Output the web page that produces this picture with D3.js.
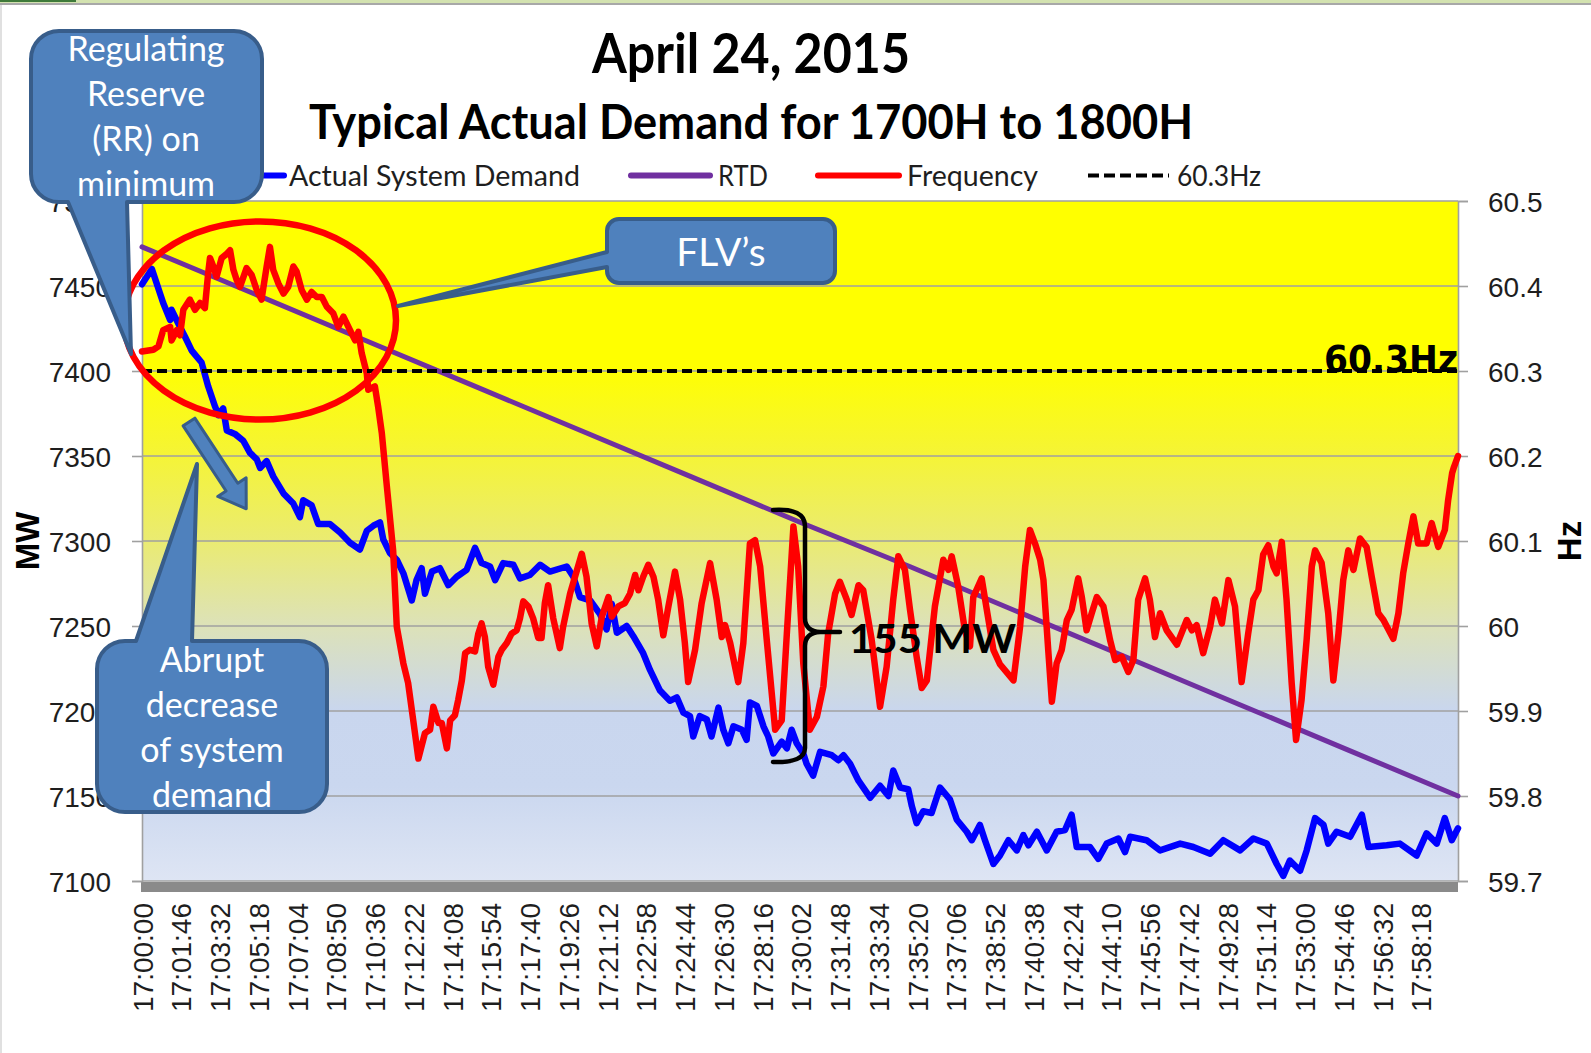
<!DOCTYPE html>
<html><head><meta charset="utf-8">
<script src="https://cdn.jsdelivr.net/npm/d3@7"></script>
<style>
html,body{margin:0;padding:0;background:#fff;}
svg{display:block;}
</style></head>
<body>
<script>
// ---------------- DATA ----------------
const titleText = "April 24, 2015";
const subtitleText = "Typical Actual Demand for 1700H to 1800H";
const legendLabels = ["Actual System Demand", "RTD", "Frequency", "60.3Hz"];
const leftTicks = [7100, 7150, 7200, 7250, 7300, 7350, 7400, 7450, 7500];
const rightTicks = [59.7, 59.8, 59.9, 60, 60.1, 60.2, 60.3, 60.4, 60.5];
const rightTickLabels = ["59.7", "59.8", "59.9", "60", "60.1", "60.2", "60.3", "60.4", "60.5"];
// x tick values: seconds after 17:00:00
const xTicks = [0,106,212,318,424,530,636,742,848,954,1060,1166,1272,1378,1484,1590,1696,1802,1908,2014,2120,2226,2332,2438,2544,2650,2756,2862,2968,3074,3180,3286,3392,3498];
const thresholdHz = 60.3;
// [seconds after 17:00:00, MW]
const demand = [[0,7451],[27,7460],[58,7440],[77,7430],[81,7436],[99,7428],[118,7420],[136,7412],[163,7405],[181,7391],[200,7379],[209,7374],[222,7378],[232,7365],[254,7363],[277,7359],[295,7352],[314,7348],[323,7343],[341,7347],[359,7338],[387,7328],[414,7322],[432,7314],[441,7324],[464,7321],[482,7310],[514,7310],[542,7305],[569,7299],[596,7295],[615,7306],[633,7309],[651,7311],[660,7301],[678,7293],[697,7289],[715,7281],[738,7265],[751,7277],[765,7284],[774,7269],[793,7282],[815,7284],[838,7274],[861,7279],[888,7283],[911,7296],[929,7287],[952,7285],[966,7277],[988,7287],[1016,7286],[1034,7278],[1061,7280],[1089,7286],[1116,7282],[1162,7285],[1180,7279],[1198,7267],[1226,7265],[1253,7257],[1271,7248],[1285,7263],[1299,7246],[1326,7250],[1344,7244],[1371,7234],[1390,7224],[1417,7212],[1444,7206],[1463,7208],[1481,7199],[1499,7197],[1508,7185],[1526,7197],[1545,7195],[1558,7185],[1577,7202],[1590,7189],[1604,7181],[1618,7191],[1641,7189],[1654,7183],[1663,7205],[1682,7203],[1700,7191],[1713,7185],[1727,7175],[1750,7182],[1764,7178],[1777,7189],[1791,7181],[1809,7175],[1818,7169],[1836,7162],[1855,7176],[1887,7174],[1905,7171],[1919,7174],[1937,7169],[1960,7159],[1992,7149],[2019,7156],[2042,7150],[2055,7165],[2074,7155],[2096,7154],[2106,7144],[2119,7134],[2137,7141],[2160,7140],[2183,7155],[2210,7148],[2229,7136],[2256,7129],[2270,7124],[2292,7133],[2306,7124],[2329,7110],[2347,7115],[2370,7124],[2393,7118],[2411,7127],[2425,7121],[2448,7129],[2475,7118],[2502,7129],[2525,7130],[2543,7139],[2557,7120],[2593,7120],[2616,7113],[2639,7122],[2671,7125],[2689,7117],[2703,7126],[2748,7124],[2785,7118],[2840,7122],[2876,7120],[2922,7116],[2958,7124],[3004,7118],[3040,7125],[3077,7122],[3104,7110],[3122,7103],[3140,7112],[3168,7106],[3186,7118],[3209,7137],[3232,7133],[3245,7122],[3268,7129],[3305,7126],[3337,7139],[3355,7120],[3405,7121],[3441,7122],[3487,7115],[3514,7128],[3542,7122],[3564,7137],[3583,7124],[3600,7131]];
// [seconds, MW] RTD schedule every 5 minutes
const rtd = [[0,7473],[300,7446],[600,7419],[900,7392],[1200,7365],[1500,7338],[1800,7311],[2100,7285],[2400,7258],[2700,7231],[3000,7204],[3300,7177],[3600,7150]];
// [seconds, Hz]
const frequency = [[0,60.323],[31,60.325],[45,60.329],[58,60.348],[77,60.352],[81,60.336],[95,60.348],[104,60.342],[113,60.372],[131,60.384],[145,60.372],[159,60.380],[172,60.374],[181,60.415],[186,60.433],[195,60.423],[204,60.411],[218,60.433],[232,60.438],[241,60.442],[250,60.419],[259,60.407],[268,60.399],[286,60.421],[300,60.413],[314,60.395],[327,60.384],[341,60.423],[350,60.446],[359,60.419],[373,60.403],[387,60.391],[400,60.399],[414,60.423],[423,60.417],[437,60.395],[451,60.384],[464,60.393],[478,60.387],[492,60.387],[505,60.376],[523,60.368],[537,60.352],[551,60.364],[569,60.348],[583,60.336],[592,60.346],[601,60.321],[615,60.297],[619,60.278],[637,60.282],[646,60.258],[656,60.227],[669,60.168],[687,60.089],[697,59.999],[715,59.956],[728,59.933],[742,59.889],[756,59.844],[774,59.874],[788,59.878],[797,59.905],[811,59.886],[820,59.886],[834,59.856],[843,59.889],[856,59.895],[865,59.913],[875,59.936],[884,59.968],[897,59.972],[911,59.970],[920,59.991],[929,60.003],[938,59.987],[947,59.952],[961,59.931],[975,59.964],[984,59.972],[998,59.980],[1011,59.991],[1025,59.995],[1034,60.009],[1043,60.029],[1057,60.023],[1070,60.009],[1084,59.986],[1093,59.986],[1102,60.027],[1111,60.048],[1125,60.009],[1143,59.974],[1152,59.999],[1171,60.038],[1203,60.085],[1216,60.058],[1230,60.003],[1244,59.976],[1258,60.011],[1276,60.034],[1285,60.011],[1303,60.023],[1321,60.027],[1335,60.038],[1349,60.060],[1358,60.042],[1371,60.058],[1385,60.072],[1399,60.058],[1412,60.031],[1426,59.989],[1440,60.023],[1458,60.064],[1472,60.031],[1485,59.980],[1494,59.934],[1513,59.972],[1531,60.027],[1554,60.074],[1572,60.031],[1586,59.987],[1595,60.001],[1609,59.980],[1631,59.934],[1645,59.980],[1663,60.097],[1677,60.101],[1691,60.070],[1709,59.984],[1732,59.878],[1750,59.889],[1764,59.991],[1782,60.117],[1795,60.070],[1809,59.956],[1827,59.878],[1846,59.893],[1864,59.929],[1877,59.991],[1896,60.038],[1909,60.052],[1928,60.031],[1941,60.013],[1960,60.048],[1973,60.042],[1996,59.984],[2019,59.905],[2037,59.952],[2055,60.031],[2069,60.082],[2087,60.066],[2101,60.019],[2119,59.964],[2133,59.927],[2147,59.936],[2169,60.023],[2192,60.078],[2206,60.066],[2215,60.082],[2233,60.046],[2251,59.995],[2265,59.976],[2274,60.034],[2297,60.056],[2311,60.019],[2329,59.972],[2347,59.955],[2384,59.936],[2402,59.999],[2416,60.070],[2429,60.113],[2443,60.097],[2457,60.078],[2466,60.054],[2479,59.972],[2489,59.911],[2502,59.956],[2516,59.972],[2530,60.007],[2543,60.019],[2561,60.056],[2571,60.034],[2584,59.995],[2598,60.015],[2612,60.034],[2630,60.023],[2648,59.984],[2662,59.960],[2680,59.964],[2698,59.946],[2712,59.960],[2725,60.031],[2744,60.056],[2757,60.031],[2771,59.987],[2785,60.015],[2803,59.995],[2831,59.978],[2858,60.007],[2872,59.995],[2885,60.001],[2903,59.968],[2922,59.999],[2935,60.031],[2954,60.003],[2972,60.054],[2990,60.023],[3008,59.934],[3026,59.991],[3040,60.031],[3054,60.042],[3067,60.084],[3081,60.095],[3095,60.070],[3104,60.062],[3118,60.099],[3131,60.031],[3145,59.933],[3157,59.866],[3172,59.913],[3186,59.984],[3200,60.070],[3209,60.089],[3227,60.074],[3245,60.015],[3259,59.936],[3273,59.991],[3286,60.054],[3300,60.089],[3314,60.066],[3332,60.103],[3350,60.093],[3364,60.058],[3382,60.015],[3396,60.007],[3423,59.985],[3437,60.015],[3450,60.062],[3464,60.097],[3478,60.129],[3491,60.097],[3514,60.097],[3528,60.121],[3546,60.093],[3564,60.113],[3573,60.148],[3584,60.180],[3589,60.187],[3600,60.200]];
const callout1Lines = ["Regulating", "Reserve", "(RR) on", "minimum"];
const callout2Text = "FLV\u2019s";
const callout3Lines = ["Abrupt", "decrease", "of system", "demand"];
const gapLabel = "155 MW";

// ---------------- LAYOUT ----------------
const W = 1591, H = 1053;
const P = {l: 142, r: 1458, t: 201, b: 881};
const svg = d3.select("body").append("svg").attr("width", W).attr("height", H);
const defs = svg.append("defs");

const x = d3.scaleLinear().domain([0, 3600]).range([P.l, P.r]);
const yL = d3.scaleLinear().domain([7100, 7500]).range([P.b, P.t]);
const yR = d3.scaleLinear().domain([59.7, 60.5]).range([P.b, P.t]);

const sans = "'Liberation Sans', Arial, sans-serif";
const cal = "Lato, 'Open Sans', sans-serif";

// page frame
svg.append("rect").attr("x",0).attr("y",0).attr("width",W).attr("height",3).attr("fill","#d3e2b0");
svg.append("rect").attr("x",0).attr("y",0).attr("width",76).attr("height",2).attr("fill","#3f7a3a");
svg.append("rect").attr("x",0).attr("y",3).attr("width",W).attr("height",2).attr("fill","#a8a8a8");
svg.append("rect").attr("x",0).attr("y",5).attr("width",2).attr("height",H).attr("fill","#e0e0e0");

// plot background gradient
const grad = defs.append("linearGradient").attr("id","bg").attr("x1",0).attr("y1",0).attr("x2",0).attr("y2",1);
[[0,"#ffff00"],[0.24,"#ffff00"],[0.36,"#f6f530"],[0.5,"#eaeb72"],[0.62,"#dde2b6"],[0.75,"#c9d6ee"],[0.86,"#cad7ef"],[1,"#dee5f4"]]
  .forEach(([o,c]) => grad.append("stop").attr("offset",o).attr("stop-color",c));
svg.append("rect").attr("x",P.l).attr("y",P.t).attr("width",P.r-P.l).attr("height",P.b-P.t).attr("fill","url(#bg)");

// gridlines
svg.append("g").selectAll("line").data(leftTicks).join("line")
  .attr("x1",P.l).attr("x2",P.r).attr("y1",d=>yL(d)).attr("y2",d=>yL(d))
  .attr("stroke","#a0a0a0").attr("stroke-width",1.6);

// floor band
svg.append("rect").attr("x",P.l-1).attr("y",P.b+1).attr("width",P.r-P.l+1).attr("height",10).attr("fill","#8a8a8a");

// left axis
const gL = svg.append("g").attr("transform",`translate(${P.l},0)`)
  .call(d3.axisLeft(yL).tickValues(leftTicks).tickSize(10).tickPadding(21).tickFormat(d3.format("d")));
gL.select(".domain").attr("stroke","#a0a0a0").attr("stroke-width",1.6);
gL.selectAll(".tick line").attr("stroke","#a0a0a0").attr("stroke-width",1.6);
gL.selectAll(".tick text").attr("font-family",sans).attr("font-size",28).attr("fill","#1e1e1e").attr("dy","0.36em");

// right axis
const gR = svg.append("g").attr("transform",`translate(${P.r},0)`)
  .call(d3.axisRight(yR).tickValues(rightTicks).tickSize(10).tickPadding(20).tickFormat((d,i)=>rightTickLabels[i]));
gR.select(".domain").attr("stroke","#a0a0a0").attr("stroke-width",1.6);
gR.selectAll(".tick line").attr("stroke","#a0a0a0").attr("stroke-width",1.6);
gR.selectAll(".tick text").attr("font-family",sans).attr("font-size",28).attr("fill","#1e1e1e").attr("dy","0.36em");

// x axis labels
const fmt = s => "17:" + String(Math.floor(s/60)).padStart(2,"0") + ":" + String(s%60).padStart(2,"0");
const gX = svg.append("g").attr("transform",`translate(0,${P.b+10})`)
  .call(d3.axisBottom(x).tickValues(xTicks).tickSize(0).tickFormat(fmt));
gX.select(".domain").remove();
gX.selectAll(".tick text").attr("font-family",sans).attr("font-size",28).attr("fill","#1e1e1e")
  .attr("transform","rotate(-90)").attr("x",-12).attr("y",0).attr("dy","0.36em").attr("text-anchor","end");

// axis titles
svg.append("text").attr("transform","translate(39,541) rotate(-90)").attr("text-anchor","middle")
  .attr("font-family",sans).attr("font-weight","bold").attr("font-size",33).text("MW");
svg.append("text").attr("transform","translate(1581,541) rotate(-90)").attr("text-anchor","middle")
  .attr("font-family",sans).attr("font-weight","bold").attr("font-size",33).text("Hz");

// series
const lineL = d3.line().x(d=>x(d[0])).y(d=>yL(d[1]));
const lineR = d3.line().x(d=>x(d[0])).y(d=>yR(d[1]));
const plotG = svg.append("g");
plotG.append("path").datum(demand).attr("d",lineL).attr("fill","none").attr("stroke","#0000ff")
  .attr("stroke-width",6.5).attr("stroke-linejoin","round").attr("stroke-linecap","round");
plotG.append("path").datum(rtd).attr("d",lineL).attr("fill","none").attr("stroke","#7030a0")
  .attr("stroke-width",5).attr("stroke-linecap","round");
plotG.append("path").datum(frequency).attr("d",lineR).attr("fill","none").attr("stroke","#ff0000")
  .attr("stroke-width",6.5).attr("stroke-linejoin","round").attr("stroke-linecap","round");
plotG.append("path").datum([[0,thresholdHz],[3600,thresholdHz]]).attr("d",lineR).attr("fill","none")
  .attr("stroke","#000").attr("stroke-width",4).attr("stroke-dasharray","10,5");

// title
svg.append("text").attr("x",751).attr("y",73).attr("text-anchor","middle").attr("font-family",cal)
  .attr("font-weight","bold").attr("font-size",55).attr("textLength",318).attr("lengthAdjust","spacingAndGlyphs").text(titleText);
svg.append("text").attr("x",751).attr("y",139).attr("text-anchor","middle").attr("font-family",cal)
  .attr("font-weight","bold").attr("font-size",48).attr("textLength",884).attr("lengthAdjust","spacingAndGlyphs").text(subtitleText);

// legend
const legY = 175.5;
const legItems = [
  {x1:203,x2:284,tx:289,tw:291,stroke:"#0000ff",dash:null},
  {x1:631,x2:710,tx:718,tw:50,stroke:"#7030a0",dash:null},
  {x1:818,x2:899,tx:907,tw:131,stroke:"#ff0000",dash:null},
  {x1:1088,x2:1169,tx:1177,tw:84,stroke:"#000",dash:"11,5"}
];
const lg = svg.append("g");
legItems.forEach((it,i)=>{
  lg.append("line").attr("x1",it.x1).attr("x2",it.x2).attr("y1",legY).attr("y2",legY)
    .attr("stroke",it.stroke).attr("stroke-width",it.dash?4:6).attr("stroke-linecap",it.dash?"butt":"round")
    .attr("stroke-dasharray",it.dash);
  lg.append("text").attr("x",it.tx).attr("y",legY+10).attr("font-family",cal).attr("font-size",29)
    .attr("fill","#1e1e1e").attr("textLength",it.tw).attr("lengthAdjust","spacingAndGlyphs").text(legendLabels[i]);
});

// annotations
const ann = svg.append("g");
// 60.3Hz label
ann.append("text").attr("x",1458).attr("y",372).attr("text-anchor","end").attr("font-family","'DejaVu Sans', sans-serif")
  .attr("font-weight","bold").attr("font-size",38).attr("textLength",134).attr("lengthAdjust","spacingAndGlyphs").text(legendLabels[3]);
// brace
ann.append("path").attr("d","M773,510 Q805,508 805,526 L805,618 Q805,631 820,632 L840,632 M820,632 Q805,633 805,646 L805,748 Q805,763 773,762")
  .attr("fill","none").attr("stroke","#000").attr("stroke-width",4.5).attr("stroke-linecap","round");
ann.append("text").attr("x",849).attr("y",653).attr("font-family",cal).attr("font-weight","bold").attr("font-size",40)
  .attr("textLength",167).attr("lengthAdjust","spacingAndGlyphs").text(gapLabel);
// ellipse
ann.append("ellipse").attr("cx",260).attr("cy",320.5).attr("rx",136).attr("ry",99)
  .attr("fill","none").attr("stroke","#ff0000").attr("stroke-width",6.5);

const cFill = "#4f81bd", cStroke = "#385d8a";
function rr(x0,y0,x1,y1,r,tail){ // tail: {side, a, b, tip:[x,y]}
  let p = `M${x0+r},${y0}`;
  if (tail && tail.side==="top") p += `H${tail.a}L${tail.tip[0]},${tail.tip[1]}L${tail.b},${y0}`;
  p += `H${x1-r}A${r},${r} 0 0 1 ${x1},${y0+r}V${y1-r}A${r},${r} 0 0 1 ${x1-r},${y1}`;
  if (tail && tail.side==="bottom") p += `H${tail.b}L${tail.tip[0]},${tail.tip[1]}L${tail.a},${y1}`;
  p += `H${x0+r}A${r},${r} 0 0 1 ${x0},${y1-r}`;
  if (tail && tail.side==="left") p += `V${tail.b}L${tail.tip[0]},${tail.tip[1]}L${x0},${tail.a}`;
  p += `V${y0+r}A${r},${r} 0 0 1 ${x0+r},${y0}Z`;
  return p;
}
// callout 1
ann.append("path").attr("d",rr(31,31,262,202,28,{side:"bottom",a:68,b:127,tip:[131,354]}))
  .attr("fill",cFill).attr("stroke",cStroke).attr("stroke-width",4).attr("stroke-linejoin","round");
callout1Lines.forEach((t,i)=>ann.append("text").attr("x",146).attr("y",61+i*45).attr("text-anchor","middle")
  .attr("font-family",cal).attr("font-size",34).attr("fill","#fff").text(t));
// callout 2
ann.append("path").attr("d",rr(607,219,835,283,12,{side:"left",a:252,b:267,tip:[398,306]}))
  .attr("fill",cFill).attr("stroke",cStroke).attr("stroke-width",4).attr("stroke-linejoin","round");
ann.append("text").attr("x",721).attr("y",266).attr("text-anchor","middle").attr("font-family",cal)
  .attr("font-size",39).attr("fill","#fff").text(callout2Text);
// callout 3
ann.append("path").attr("d",rr(97,641,327,812,28,{side:"top",a:136,b:192,tip:[197,464]}))
  .attr("fill",cFill).attr("stroke",cStroke).attr("stroke-width",4).attr("stroke-linejoin","round");
callout3Lines.forEach((t,i)=>ann.append("text").attr("x",212).attr("y",672+i*45).attr("text-anchor","middle")
  .attr("font-family",cal).attr("font-size",34).attr("fill","#fff").text(t));
// block arrow
ann.append("path").attr("d","M0,-7 L78,-7 L78,-17 L104,0 L78,17 L78,7 L0,7 Z")
  .attr("transform","translate(189,422) rotate(56.6)")
  .attr("fill",cFill).attr("stroke",cStroke).attr("stroke-width",3).attr("stroke-linejoin","round");
</script>
</body></html>
